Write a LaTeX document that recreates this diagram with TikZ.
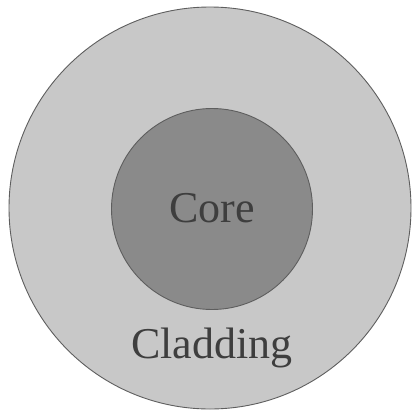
\documentclass[tikz,border=0pt]{standalone}
\usepackage{fontspec}
\setmainfont{Liberation Serif}
\definecolor{cladfill}{HTML}{C8C8C8}
\definecolor{corefill}{HTML}{8A8A8A}
\definecolor{edge}{HTML}{5E5E5E}
\definecolor{txt}{HTML}{3E3E3E}
\begin{document}
\begin{tikzpicture}[x=1pt,y=-1pt,
  layer/.style={circle,draw=edge,line width=0.9pt,inner sep=0pt},
  lbl/.style={text=txt,font=\fontsize{44}{50}\selectfont,inner sep=0pt}]
\useasboundingbox (0,0) rectangle (412,410);
\fill[white] (0,0) rectangle (412,410);
\node[layer,fill=cladfill,minimum size=402pt] (clad) at (210,208) {};
\node[layer,fill=corefill,minimum size=201pt] (core) at (212,209) {};
\node[lbl,anchor=base] (coretxt) at (212,222) {Core};
\node[lbl,anchor=base] (cladtxt) at (212,358) {Cladding};
\end{tikzpicture}
\end{document}
